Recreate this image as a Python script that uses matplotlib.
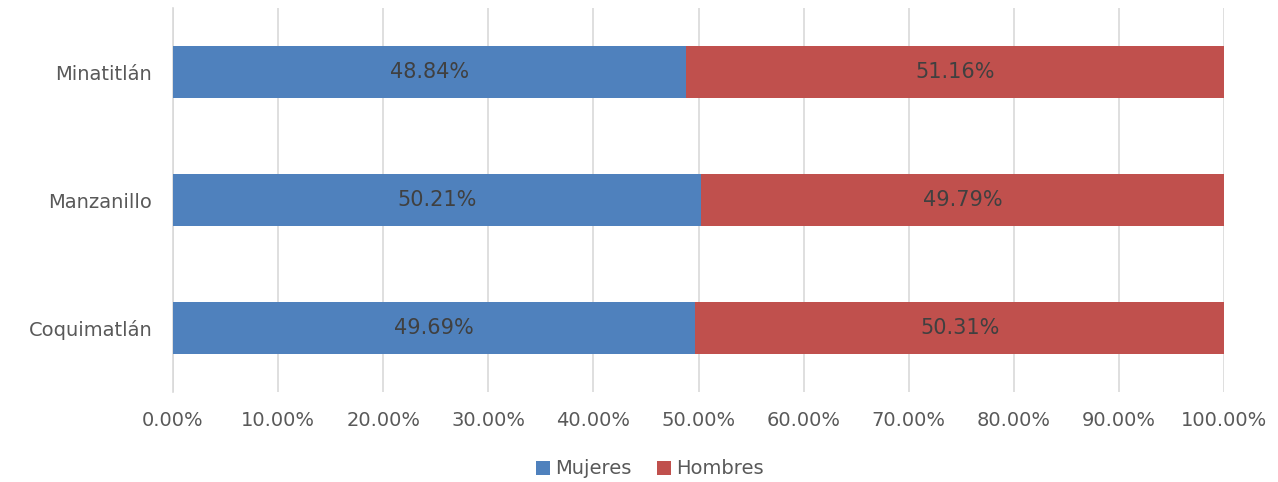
import matplotlib
matplotlib.use("Agg")
import matplotlib.pyplot as plt
from matplotlib.ticker import FuncFormatter

categories = ["Coquimatlán", "Manzanillo", "Minatitlán"]
mujeres = [49.69, 50.21, 48.84]
hombres = [50.31, 49.79, 51.16]
xticks = [0, 10, 20, 30, 40, 50, 60, 70, 80, 90, 100]

plt.rcParams['font.family'] = ['DejaVu Sans']
txt = '#595959'
blue = '#4f81bd'
red = '#c0504d'

fig = plt.figure(figsize=(12.78, 4.82), dpi=100)
ax = fig.add_axes([173/1278, 1-392/482, (1224-173)/1278, 384/482])

y = list(range(len(categories)))
ax.barh(y, mujeres, height=0.4, color=blue, label='Mujeres', zorder=3)
ax.barh(y, hombres, left=mujeres, height=0.4, color=red, label='Hombres', zorder=3)

for i in y:
    ax.text(mujeres[i] / 2, i, f"{mujeres[i]:.2f}%", ha='center', va='center',
            fontsize=15, color='#404040', zorder=4)
    ax.text(mujeres[i] + hombres[i] / 2, i, f"{hombres[i]:.2f}%", ha='center', va='center',
            fontsize=15, color='#404040', zorder=4)

ax.set_xlim(0, 100)
ax.set_ylim(-0.5, 2.5)
ax.set_xticks(xticks)
ax.xaxis.set_major_formatter(FuncFormatter(lambda v, p: f"{v:.2f}%"))
ax.set_yticks(y)
ax.set_yticklabels(categories)
ax.tick_params(axis='both', length=0, labelsize=14, colors=txt)
ax.tick_params(axis='x', pad=14)
ax.tick_params(axis='y', pad=15)
ax.grid(axis='x', color='#d9d9d9', linewidth=1.2, zorder=0)
for s in ['top', 'right', 'bottom']:
    ax.spines[s].set_visible(False)
ax.spines['left'].set_color('#d9d9d9')
ax.spines['left'].set_linewidth(1.2)

fig.legend(loc='center', bbox_to_anchor=(650/1278, 1-469/482), ncol=2, frameon=False,
           fontsize=14, labelcolor=txt, handlelength=0.7, handleheight=0.7,
           handletextpad=0.3, columnspacing=1.3)

fig.savefig('out.png', dpi=100)
